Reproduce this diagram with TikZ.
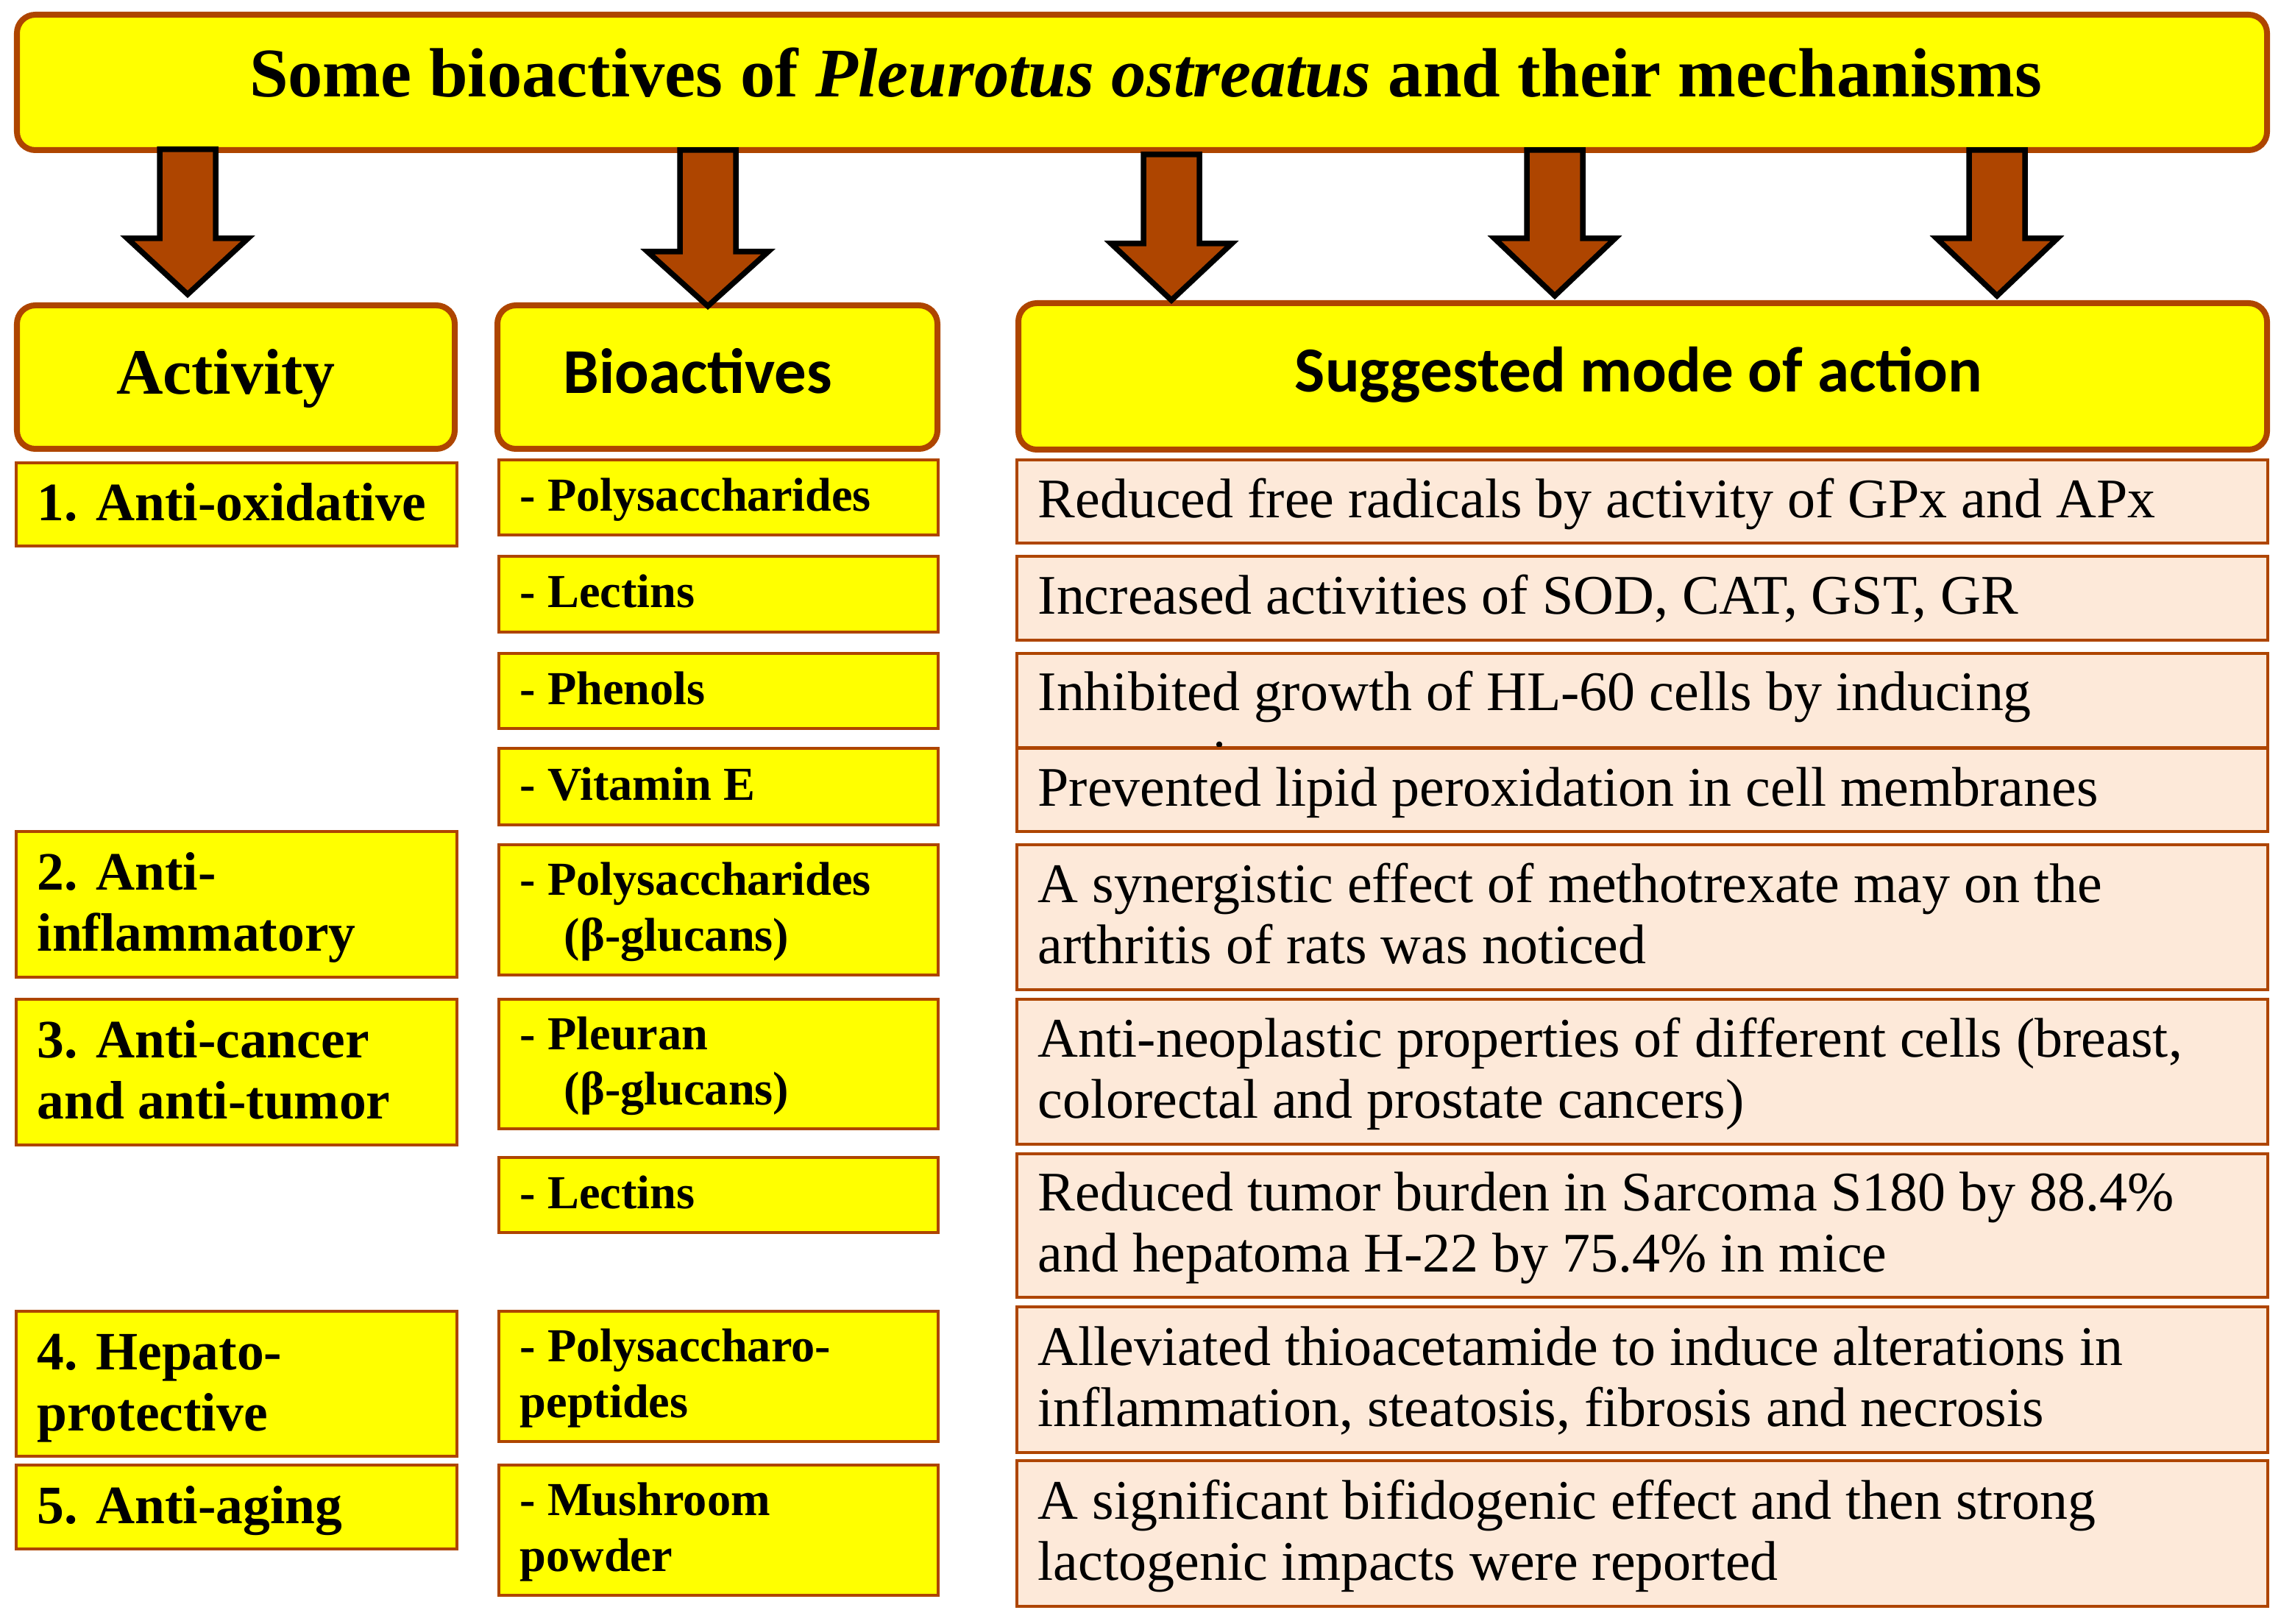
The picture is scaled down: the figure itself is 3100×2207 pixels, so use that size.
\documentclass[tikz,border=0pt]{standalone}
\usepackage{fontspec}
\setmainfont{Liberation Serif}
\newfontfamily\hdrsans{Carlito}
\definecolor{brn}{HTML}{AE4500}
\definecolor{ylw}{HTML}{FFFF00}
\definecolor{peach}{HTML}{FDE9D9}
\tikzset{
  hdrbox/.style={draw=brn, line width=0.08cm, fill=ylw, rounded corners=0.25cm},
  ybox/.style={draw=brn, line width=0.04cm, fill=ylw},
  pbox/.style={draw=brn, line width=0.04cm, fill=peach},
  arr/.style={draw=black, line width=0.075cm, fill=brn, line join=miter},
  acttxt/.style={font=\bfseries\fontsize{20.9}{23.6}\selectfont, align=left, inner sep=0pt, anchor=west, yshift=-0.055cm},
  biotxt/.style={font=\bfseries\fontsize{18.3}{21.5}\selectfont, align=left, inner sep=0pt, anchor=west, yshift=-0.03cm},
  modetxt/.style={font=\fontsize{21.6}{23.6}\selectfont, align=left, inner sep=0pt, anchor=west, yshift=-0.05cm},
}
\newcommand\cellbox[8]{%
  \draw[#2] (#4,#5) rectangle (#6,#7);
  \node[#3] (#1) at ({#4+28},{(#5+#7)/2}) {#8};}
\newcommand\blockarrow[4]{%
  \draw[arr] ({#1-38},#2) -- ({#1+38},#2) -- ({#1+38},#3) -- ({#1+82},#3)
    -- (#1,#4) -- ({#1-82},#3) -- ({#1-38},#3) -- cycle;}
\begin{document}
\begin{tikzpicture}[x=0.01cm, y=-0.01cm]
\useasboundingbox (0,0) rectangle (3100,2207);
% title
\draw[hdrbox] (23,20) rectangle (3081,204);
\node[font=\bfseries\fontsize{26.9}{30}\selectfont, anchor=base, inner sep=0pt] (title) at (1557,132)
  {Some bioactives of \textit{Pleurotus ostreatus} and their mechanisms};
% headers
\draw[hdrbox] (23,415) rectangle (618,610);
\draw[hdrbox] (676,415) rectangle (1274,610);
\draw[hdrbox] (1384,412) rectangle (3081,611);
\node[font=\bfseries\fontsize{25}{28}\selectfont, anchor=base, inner sep=0pt] (hact) at (307,536) {Activity};
\node[font=\hdrsans\bfseries\fontsize{24.7}{28}\selectfont, anchor=base, inner sep=0pt] (hbio) at (948,535) {Bioactives};
\node[font=\hdrsans\bfseries\fontsize{24.8}{28}\selectfont, anchor=base, inner sep=0pt] (hmode) at (2227,533) {Suggested mode of action};
% arrows
\blockarrow{255}{203}{324}{400}
\blockarrow{962}{204}{342}{416}
\blockarrow{1592}{210}{331}{408}
\blockarrow{2113}{204}{324}{402}
\blockarrow{2714}{204}{324}{402}
% activity column
\cellbox{a1}{ybox}{acttxt}{22}{629}{621}{742}{\strut 1. Anti-oxidative}
\cellbox{a2}{ybox}{acttxt}{22}{1130}{621}{1328}{\strut 2. Anti-\\\strut inflammatory}
\cellbox{a3}{ybox}{acttxt}{22}{1358}{621}{1556}{\strut 3. Anti-cancer\\\strut and anti-tumor}
\cellbox{a4}{ybox}{acttxt}{22}{1782}{621}{1979}{\strut 4. Hepato-\\\strut protective}
\cellbox{a5}{ybox}{acttxt}{22}{1991}{621}{2105}{\strut 5. Anti-aging}
% bioactives column
\cellbox{b1}{ybox}{biotxt}{678}{625}{1275}{727}{\strut - Polysaccharides}
\cellbox{b2}{ybox}{biotxt}{678}{756}{1275}{859}{\strut - Lectins}
\cellbox{b3}{ybox}{biotxt}{678}{888}{1275}{990}{\strut - Phenols}
\cellbox{b4}{ybox}{biotxt}{678}{1017}{1275}{1121}{\strut - Vitamin E}
\cellbox{b5}{ybox}{biotxt}{678}{1148}{1275}{1325}{\strut - Polysaccharides\\\strut\hspace*{0.6cm}(β-glucans)}
\cellbox{b6}{ybox}{biotxt}{678}{1358}{1275}{1534}{\strut - Pleuran\\\strut\hspace*{0.6cm}(β-glucans)}
\cellbox{b7}{ybox}{biotxt}{678}{1573}{1275}{1675}{\strut - Lectins}
\cellbox{b8}{ybox}{biotxt}{678}{1782}{1275}{1959}{\strut - Polysaccharo-\\\strut peptides}
\cellbox{b9}{ybox}{biotxt}{678}{1991}{1275}{2168}{\strut - Mushroom\\\strut powder}
% mode column
\cellbox{m1}{pbox}{modetxt}{1382}{625}{3082}{738}{\strut Reduced free radicals by activity of GPx and APx}
\cellbox{m2}{pbox}{modetxt}{1382}{756}{3082}{870}{\strut Increased activities of SOD, CAT, GST, GR}
\draw[pbox] (1382,888) rectangle (3082,1016);
\begin{scope}
\clip (1384,890) rectangle (3080,1014);
\node[font=\fontsize{21.6}{23.6}\selectfont, align=left, inner sep=0pt, anchor=north west] (m3) at (1410,907)
  {\strut Inhibited growth of HL-60 cells by inducing\\[0.1cm]\strut apoptosis};
\end{scope}
\cellbox{m4}{pbox}{modetxt}{1382}{1017}{3082}{1130}{\strut Prevented lipid peroxidation in cell membranes}
\cellbox{m5}{pbox}{modetxt}{1382}{1148}{3082}{1345}{\strut A synergistic effect of methotrexate may on the\\\strut arthritis of rats was noticed}
\cellbox{m6}{pbox}{modetxt}{1382}{1358}{3082}{1555}{\strut Anti-neoplastic properties of different cells (breast,\\\strut colorectal and prostate cancers)}
\cellbox{m7}{pbox}{modetxt}{1382}{1568}{3082}{1763}{\strut Reduced tumor burden in Sarcoma S180 by 88.4\%\\\strut and hepatoma H-22 by 75.4\% in mice}
\cellbox{m8}{pbox}{modetxt}{1382}{1776}{3082}{1974}{\strut Alleviated thioacetamide to induce alterations in\\\strut inflammation, steatosis, fibrosis and necrosis}
\cellbox{m9}{pbox}{modetxt}{1382}{1985}{3082}{2183}{\strut A significant bifidogenic effect and then strong\\\strut lactogenic impacts were reported}
\end{tikzpicture}
\end{document}
